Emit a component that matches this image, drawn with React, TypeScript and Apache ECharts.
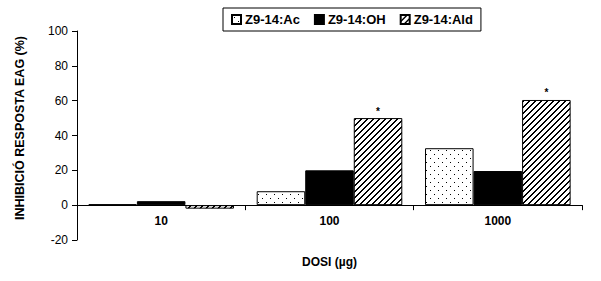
import React, { useEffect, useRef } from "react";
import * as echarts from "echarts";

const categories = ["10", "100", "1000"];
const seriesNames = ["Z9-14:Ac", "Z9-14:OH", "Z9-14:Ald"];
const acValues = [0.5, 8, 32.7];
const ohValues = [2.3, 20, 19.6];
const aldValues = [-2, 50, 60.4];
const aldSignificant = [false, true, true];
const yTicks = { min: -20, max: 100, interval: 20 };

function makeDots(): HTMLCanvasElement {
  const c = document.createElement("canvas");
  c.width = 8;
  c.height = 8;
  const g = c.getContext("2d")!;
  g.fillStyle = "#fff";
  g.fillRect(0, 0, 8, 8);
  g.fillStyle = "#000";
  g.fillRect(2, 2, 1, 1);
  g.fillRect(6, 6, 1, 1);
  return c;
}

function makeHatch(): HTMLCanvasElement {
  const c = document.createElement("canvas");
  c.width = 6;
  c.height = 6;
  const g = c.getContext("2d")!;
  g.fillStyle = "#fff";
  g.fillRect(0, 0, 6, 6);
  g.fillStyle = "#000";
  for (let i = 0; i < 6; i++) {
    g.fillRect(i, 5 - i, 1, 1);
    g.fillRect((i + 1) % 6, 5 - i, 1, 1);
  }
  return c;
}

const FONT = "'Liberation Sans', Arial, sans-serif";

export default function App() {
  const ref = useRef<HTMLDivElement>(null);
  useEffect(() => {
    if (!ref.current) return;
    const chart = echarts.init(ref.current, undefined, { renderer: "svg" });
    const dots = { image: makeDots(), repeat: "repeat" };
    const hatch = { image: makeHatch(), repeat: "repeat" };
    const border = { borderColor: "#000", borderWidth: 1 };
    chart.setOption({
      animation: false,
      backgroundColor: "#fff",
      textStyle: { fontFamily: FONT, color: "#000" },
      legend: {
        left: 223,
        top: 8,
        padding: [5, 8, 5, 8],
        borderColor: "#000",
        borderWidth: 1,
        itemGap: 14,
        itemWidth: 9,
        itemHeight: 9,
        icon: "rect",
        textStyle: { fontFamily: FONT, fontSize: 13, fontWeight: "bold", color: "#000", padding: [0, 0, 0, -1] },
        data: seriesNames,
      },
      grid: { left: 77, right: 19, top: 31, bottom: 41, outerBoundsMode: "none", containLabel: false },
      xAxis: {
        type: "category",
        data: categories,
        name: "DOSI (µg)",
        nameLocation: "middle",
        nameGap: 16,
        nameTextStyle: { fontFamily: FONT, fontSize: 12, fontWeight: "bold", color: "#000" },
        axisLine: { onZero: true, lineStyle: { color: "#000", width: 1 } },
        axisTick: { show: true, length: 5, lineStyle: { color: "#000" } },
        axisLabel: { fontFamily: FONT, fontSize: 12, fontWeight: "bold", color: "#000", margin: -25 },
      },
      yAxis: {
        type: "value",
        min: yTicks.min,
        max: yTicks.max,
        interval: yTicks.interval,
        axisLine: { show: true, lineStyle: { color: "#000", width: 1 } },
        axisTick: { show: true, length: 5, lineStyle: { color: "#000" } },
        axisLabel: { fontFamily: FONT, fontSize: 12, color: "#000", margin: 9 },
        splitLine: { show: false },
      },
      graphic: [
        {
          type: "text",
          x: 20,
          y: 128,
          rotation: Math.PI / 2,
          style: {
            text: "INHIBICIÓ RESPOSTA EAG (%)",
            fontFamily: FONT,
            fontSize: 12.5,
            fontWeight: "bold",
            fill: "#000",
            align: "center",
            verticalAlign: "middle",
          },
        },
      ],
      series: [
        {
          name: seriesNames[0],
          type: "bar",
          data: acValues,
          barGap: "0%",
          barCategoryGap: "13.5%",
          itemStyle: { color: dots, ...border },
        },
        {
          name: seriesNames[1],
          type: "bar",
          data: ohValues,
          barGap: "0%",
          barCategoryGap: "13.5%",
          itemStyle: { color: "#000", ...border },
        },
        {
          name: seriesNames[2],
          type: "bar",
          data: aldValues.map((v, i) => ({
            value: v,
            label: {
              show: aldSignificant[i],
              position: "top",
              formatter: "*",
              distance: 2,
              fontSize: 10,
              fontWeight: "bold",
              color: "#000",
              fontFamily: FONT,
            },
          })),
          barGap: "0%",
          barCategoryGap: "13.5%",
          itemStyle: { color: hatch, ...border },
        },
      ],
    });
    return () => chart.dispose();
  }, []);
  return <div ref={ref} style={{ width: 601, height: 281, position: "absolute", left: 0, top: 0 }} />;
}
